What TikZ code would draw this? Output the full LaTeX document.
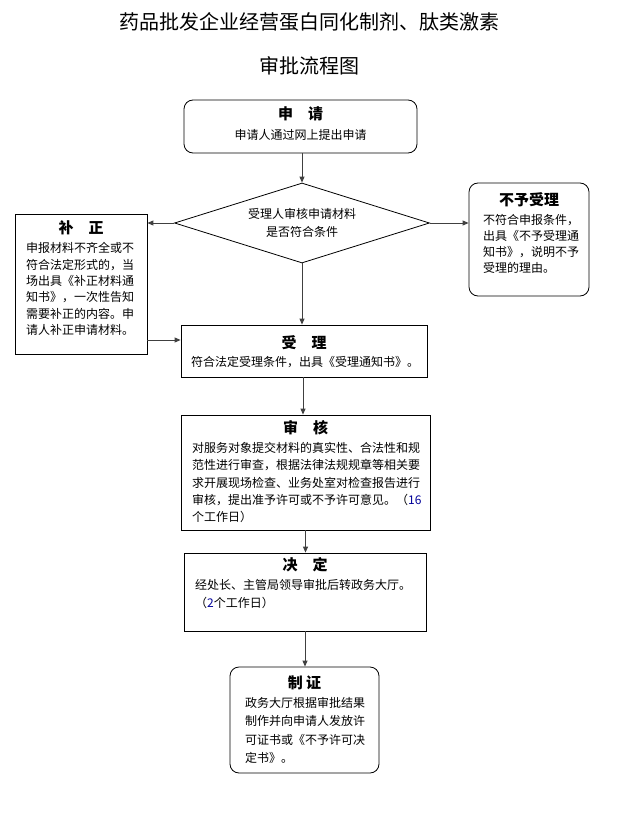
\documentclass[tikz,border=0pt]{standalone}
\usepackage{fontspec}
\setmainfont{Noto Sans CJK SC}
\usetikzlibrary{shapes.geometric,arrows.meta}
\tikzset{
  box/.style={draw=black,line width=0.8pt,inner sep=0pt},
  rbox/.style={box,rounded corners=9pt},
  hd/.style={inner sep=0pt,font=\fontsize{15}{15}\selectfont\bfseries},
  bd/.style={inner sep=0pt,align=left,anchor=west},
  arr/.style={draw=black!75,line width=1pt,-{Triangle[length=6pt,width=5pt]}},
}
\begin{document}
\begin{tikzpicture}[x=1pt,y=1pt]
\useasboundingbox (0,0) rectangle (619,-813);
% title
\node[inner sep=0pt,font=\fontsize{20}{20}\selectfont] (t1) at (309,-22) {药品批发企业经营蛋白同化制剂、肽类激素};
\node[inner sep=0pt,font=\fontsize{20}{20}\selectfont] (t2) at (309,-66) {审批流程图};
% 申请
\node[rbox,minimum width=233pt,minimum height=53pt] (sq) at (300.5,-126.5) {};
\node[hd] (sqh) at (300.5,-114) {申\quad 请};
\node[inner sep=0pt,font=\fontsize{12}{12}\selectfont] (sqb) at (300.5,-135) {申请人通过网上提出申请};
% diamond
\node[diamond,draw=black,line width=0.8pt,minimum width=255pt,minimum height=80pt,inner sep=0pt,aspect=3.2] (dm) at (302,-223) {};
\node[inner sep=0pt,align=center,font=\fontsize{12}{18}\selectfont] (dmt) at (302,-223) {受理人审核申请材料\\是否符合条件};
% 补正
\node[box,minimum width=132pt,minimum height=140pt] (bz) at (81,-284) {};
\node[hd] (bzh) at (81,-228) {补\quad 正};
\node[bd,font=\fontsize{12}{16.4}\selectfont] (bzb) at (26,-289) {申报材料不齐全或不\\符合法定形式的，当\\场出具《补正材料通\\知书》，一次性告知\\需要补正的内容。申\\请人补正申请材料。};
% 不予受理
\node[rbox,minimum width=120pt,minimum height=113pt] (by) at (529,-239.5) {};
\node[hd] (byh) at (529,-200) {不予受理};
\node[bd,font=\fontsize{12}{16}\selectfont] (byb) at (483,-244) {不符合申报条件，\\出具《不予受理通\\知书》，说明不予\\受理的理由。};
% 受理
\node[box,minimum width=246pt,minimum height=52pt] (sl) at (304,-351) {};
\node[hd] (slh) at (304,-343) {受\quad 理};
\node[inner sep=0pt,font=\fontsize{12}{12}\selectfont] (slb) at (305,-362) {符合法定受理条件，出具《受理通知书》。};
% 审核
\node[box,minimum width=249pt,minimum height=115pt] (sh) at (305.5,-472.5) {};
\node[hd] (shh) at (305.5,-428) {审\quad 核};
\node[bd,font=\fontsize{12}{17.25}\selectfont] (shb) at (192,-482.5) {对服务对象提交材料的真实性、合法性和规\\范性进行审查，根据法律法规规章等相关要\\求开展现场检查、业务处室对检查报告进行\\审核，提出准予许可或不予许可意见。（{\color{blue!60!black}16}\\个工作日）};
% 决定
\node[box,minimum width=242pt,minimum height=78pt] (jd) at (305,-592) {};
\node[hd] (jdh) at (305,-565) {决\quad 定};
\node[bd,font=\fontsize{12}{18}\selectfont] (jdb) at (195,-594) {经处长、主管局领导审批后转政务大厅。\\（{\color{blue!60!black}2}个工作日）};
% 制证
\node[rbox,minimum width=149pt,minimum height=106pt] (zz) at (304.5,-720) {};
\node[hd] (zzh) at (304.5,-683) {制\ 证};
\node[bd,font=\fontsize{12}{18.3}\selectfont] (zzb) at (245,-730.5) {政务大厅根据审批结果\\制作并向申请人发放许\\可证书或《不予许可决\\定书》。};
% connectors
\draw[arr] (dm.north |- sq.south) -- (dm.north);
\draw[arr] (dm.west) -- (bz.east |- dm.west);
\draw[arr] (dm.east) -- (by.west |- dm.east);
\draw[arr] (dm.south) -- (dm.south |- sl.north);
\coordinate (bzo) at (bz.east |- 0,-340);
\draw[arr] (bzo) -- (sl.west |- bzo);
\coordinate (slo) at (303,-377);
\draw[arr] (sl.south -| slo) -- (sh.north -| slo);
\draw[arr] (sh.south) -- (sh.south |- jd.north);
\draw[arr] (jd.south) -- (jd.south |- zz.north);
\end{tikzpicture}
\end{document}
